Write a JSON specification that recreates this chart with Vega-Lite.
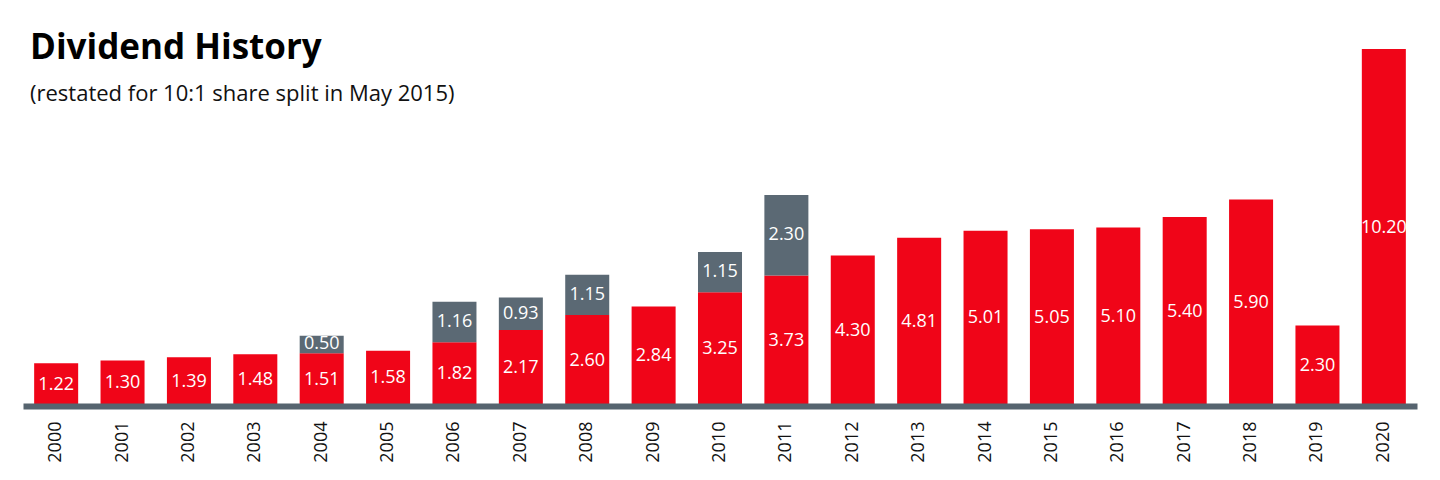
{
  "$schema": "https://vega.github.io/schema/vega-lite/v6.json",
  "width": 1394,
  "height": 357,
  "autosize": {"type": "none"},
  "padding": {"left": 23, "right": 23, "top": 49, "bottom": 74},
  "background": "white",
  "title": {
    "text": "Dividend History",
    "subtitle": "(restated for 10:1 share split in May 2015)",
    "anchor": "start",
    "frame": "group",
    "orient": "top",
    "offset": -56,
    "font": "Open Sans",
    "fontSize": 35,
    "fontWeight": "bold",
    "color": "#000000",
    "subtitleFont": "Open Sans",
    "subtitleFontSize": 22,
    "subtitleColor": "#111111",
    "subtitlePadding": 18,
    "dx": 7
  },
  "data": {
    "values": [
      {"year": "2000", "type": "Regular", "amount": 1.22},
      {"year": "2001", "type": "Regular", "amount": 1.30},
      {"year": "2002", "type": "Regular", "amount": 1.39},
      {"year": "2003", "type": "Regular", "amount": 1.48},
      {"year": "2004", "type": "Regular", "amount": 1.51},
      {"year": "2004", "type": "Special", "amount": 0.50},
      {"year": "2005", "type": "Regular", "amount": 1.58},
      {"year": "2006", "type": "Regular", "amount": 1.82},
      {"year": "2006", "type": "Special", "amount": 1.16},
      {"year": "2007", "type": "Regular", "amount": 2.17},
      {"year": "2007", "type": "Special", "amount": 0.93},
      {"year": "2008", "type": "Regular", "amount": 2.60},
      {"year": "2008", "type": "Special", "amount": 1.15},
      {"year": "2009", "type": "Regular", "amount": 2.84},
      {"year": "2010", "type": "Regular", "amount": 3.25},
      {"year": "2010", "type": "Special", "amount": 1.15},
      {"year": "2011", "type": "Regular", "amount": 3.73},
      {"year": "2011", "type": "Special", "amount": 2.30},
      {"year": "2012", "type": "Regular", "amount": 4.30},
      {"year": "2013", "type": "Regular", "amount": 4.81},
      {"year": "2014", "type": "Regular", "amount": 5.01},
      {"year": "2015", "type": "Regular", "amount": 5.05},
      {"year": "2016", "type": "Regular", "amount": 5.10},
      {"year": "2017", "type": "Regular", "amount": 5.40},
      {"year": "2018", "type": "Regular", "amount": 5.90},
      {"year": "2019", "type": "Regular", "amount": 2.30},
      {"year": "2020", "type": "Regular", "amount": 10.20}
    ]
  },
  "transform": [
    {"stack": "amount", "groupby": ["year"], "sort": [{"field": "type", "order": "ascending"}], "as": ["s", "e"]}
  ],
  "encoding": {
    "x": {
      "field": "year",
      "type": "ordinal",
      "scale": {"paddingInner": 0.337, "paddingOuter": 0.168},
      "axis": {
        "title": null,
        "labelAngle": -90,
        "labelAlign": "right",
        "labelBaseline": "middle",
        "labelFont": "Open Sans",
        "labelFontSize": 18,
        "labelColor": "#111111",
        "ticks": false,
        "tickSize": 0,
        "labelPadding": 15,
        "domainColor": "#56646F",
        "domainWidth": 6,
        "grid": false,
        "zindex": 1
      }
    }
  },
  "layer": [
    {
      "mark": {"type": "bar"},
      "encoding": {
        "y": {"field": "s", "type": "quantitative", "scale": {"domain": [0, 10.2], "nice": false, "zero": true}, "axis": null},
        "y2": {"field": "e"},
        "color": {
          "field": "type",
          "type": "nominal",
          "scale": {"domain": ["Regular", "Special"], "range": ["#F00518", "#5B6974"]},
          "legend": null
        }
      }
    },
    {
      "transform": [{"fold": ["s", "e"], "as": ["k", "v"]}],
      "mark": {"type": "text", "color": "white", "font": "Open Sans", "fontSize": 18, "baseline": "middle", "align": "center"},
      "encoding": {
        "y": {"aggregate": "mean", "field": "v", "type": "quantitative"},
        "text": {"field": "amount", "type": "quantitative", "format": ".2f"},
        "detail": {"field": "type"}
      }
    }
  ],
  "config": {"view": {"stroke": null}}
}
